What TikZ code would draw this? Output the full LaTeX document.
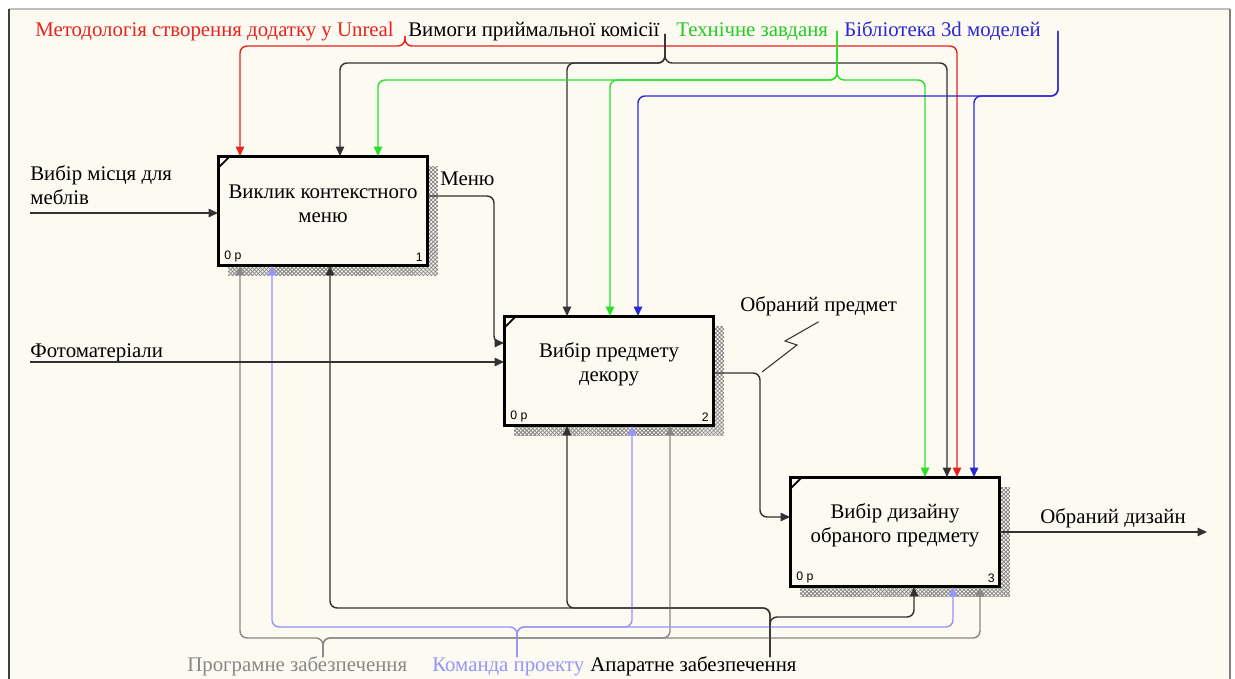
\documentclass[tikz,border=0pt]{standalone}
\usepackage{fontspec}
\setmainfont{Liberation Serif}
\newfontfamily\numfont{Liberation Sans}
\usetikzlibrary{arrows.meta}
\usetikzlibrary{patterns.meta}
\usetikzlibrary{backgrounds}

\definecolor{paper}{RGB}{253,250,241}
\definecolor{redc}{RGB}{230,35,30}
\definecolor{greenc}{RGB}{40,225,40}
\definecolor{bluec}{RGB}{40,40,215}
\definecolor{lavc}{RGB}{150,150,250}
\definecolor{grayc}{RGB}{135,135,135}
\definecolor{darkc}{RGB}{50,50,50}

\begin{document}
\begin{tikzpicture}[
      x=0.02cm, y=-0.02cm,
      font=\fontsize{11.85}{13.5}\selectfont,
      func/.style ={rectangle, draw=black, line width=1.7pt, fill=paper,
                    minimum width=4.2cm, minimum height=2.2cm, inner sep=0pt, outer sep=0pt},
      ftext/.style={align=center, inner sep=0pt},
      lbl/.style  ={inner sep=0pt, anchor=base west},
      num/.style  ={font=\numfont\fontsize{7}{8}\selectfont, inner sep=0pt},
      arc/.style  ={line width=0.8pt, rounded corners=4pt,
                    -{Triangle[length=0.19cm, width=0.17cm]}},
      hatch/.style={pattern={Hatch[angle=45, distance=1.6pt, line width=0.45pt]}, pattern color=gray}
    ]
    \useasboundingbox (0,0) rectangle (1235,679);

    % functions
    \node [func] (b1) at (323,211) {};
    \node [func] (b2) at (609,371) {};
    \node [func] (b3) at (895,532) {};
    \node [ftext] (t1) at ([yshift=0.14cm]b1.center) {Виклик контекстного\\меню};
    \node [ftext] (t2) at ([yshift=0.14cm]b2.center) {Вибір предмету\\декору};
    \node [ftext] (t3) at ([yshift=0.14cm]b3.center) {Вибір дизайну\\обраного предмету};
    \foreach \b/\n in {b1/1, b2/2, b3/3} {
      \node [num, anchor=south west] (\b p) at ([shift={(6,-4)}]\b.south west) {0 р};
      \node [num, anchor=south east] (\b n) at ([shift={(-5,-4)}]\b.south east) {\n};
      \draw [line width=1pt] ([yshift=-0.24cm]\b.north west) -- ([xshift=0.24cm]\b.north west);
    }

    % labels
    \node [lbl, text=redc] (lmet) at (35,37) {Методологія створення додатку у Unreal};
    \node [lbl] (lvym) at (408,37) {Вимоги приймальної комісії};
    \node [lbl, text=greenc!90!black] (ltz) at (676,37) {Технічне завданя};
    \node [lbl, text=bluec] (lbib) at (844,37) {Бібліотека 3d моделей};
    \node [lbl, text=grayc] (lpz) at (187,671) {Програмне забезпечення};
    \node [lbl, text=lavc] (lkp) at (432,671) {Команда проекту};
    \node [lbl] (laz) at (590,671) {Апаратне забезпечення};
    \node [inner sep=0pt, align=left, anchor=south west] (lmis) at (30,205) {Вибір місця для\\меблів};
    \node [lbl] (lfoto) at (30,357) {Фотоматеріали};
    \node [lbl] (lmenu) at (440,186) {Меню};
    \node [lbl] (lop) at (740,311) {Обраний предмет};
    \node [lbl] (lod) at (1040,523) {Обраний дизайн};

    % controls
    \coordinate (mt) at (405,36); \coordinate (m1) at (240,46); \coordinate (m3) at (957,46);
    \coordinate (vt) at (665,34); \coordinate (v1) at (340,63); \coordinate (v2) at (567,63); \coordinate (v3) at (947,63);
    \coordinate (zt) at (837,31); \coordinate (z1) at (378,80); \coordinate (z2) at (610,80); \coordinate (z3) at (925,80);
    \coordinate (kt) at (1058,31); \coordinate (k2) at (638,96); \coordinate (k3) at (974,96);
    \draw [arc, redc] (mt) |- (m1) -- (m1 |- b1.north);
    \draw [arc, redc] (mt) |- (m3) -- (m3 |- b3.north);
    \draw [arc, darkc] (vt) |- (v1) -- (v1 |- b1.north);
    \draw [arc, darkc] (vt) |- (v2) -- (v2 |- b2.north);
    \draw [arc, darkc] (vt) |- (v3) -- (v3 |- b3.north);
    \draw [arc, greenc] (zt) |- (z1) -- (z1 |- b1.north);
    \draw [arc, greenc] (zt) |- (z2) -- (z2 |- b2.north);
    \draw [arc, greenc] (zt) |- (z3) -- (z3 |- b3.north);
    \draw [arc, bluec] (kt) |- (k2) -- (k2 |- b2.north);
    \draw [arc, bluec] (kt) |- (k3) -- (k3 |- b3.north);

    % mechanisms
    \coordinate (pt) at (323,657); \coordinate (p1) at (240,638); \coordinate (p2) at (670,638); \coordinate (p3) at (980,638);
    \coordinate (ct) at (517,657); \coordinate (c1) at (272,627); \coordinate (c2) at (632,627); \coordinate (c3) at (953,627);
    \coordinate (at) at (770,657); \coordinate (a1) at (330,608); \coordinate (a2) at (567,608); \coordinate (a3) at (914,617);
    \foreach \e in {1,2,3} {
      \draw [arc, grayc] (pt) |- (p\e) -- (p\e |- b\e.south);
      \draw [arc, lavc] (ct) |- (c\e) -- (c\e |- b\e.south);
      \draw [arc, darkc] (at) |- (a\e) -- (a\e |- b\e.south);
    }

    % inputs and outputs
    \coordinate (in1) at (30,213); \coordinate (in2) at (30,362);
    \coordinate (me1) at (494,196); \coordinate (me2) at (494,343);
    \coordinate (op1) at (760,373); \coordinate (op2) at (760,517);
    \coordinate (od) at (1207,532);
    \draw [arc, darkc] (in1) -- (in1 -| b1.west);
    \draw [arc, darkc] (in2) -- (in2 -| b2.west);
    \draw [arc, darkc] (b1.east |- me1) -- (me1) -- (me2) -- (me2 -| b2.west);
    \draw [arc, darkc] (b2.east |- op1) -- (op1) -- (op2) -- (op2 -| b3.west);
    \draw [arc, darkc] (b3.east) -- (od);
    \draw [darkc, line width=0.6pt] (lop.south) ++(0,6) -- (785,341) -- (797,345) -- (762,372);

    \begin{scope}[on background layer]
      \fill [paper] (9,9) rectangle (1230,679);
      \foreach \b in {b1,b2,b3}
        \fill [hatch] ([shift={(10,10)}]\b.north west) rectangle ([shift={(10,10)}]\b.south east);
    \end{scope}
    \draw [gray!50, line width=0.6pt] (9,9) -- (1230,9);
    \draw [black!75, line width=1.6pt] (9,9) -- (9,679);
    \draw [gray, line width=1pt] (1230,9) -- (1230,679);
  \end{tikzpicture}
\end{document}
